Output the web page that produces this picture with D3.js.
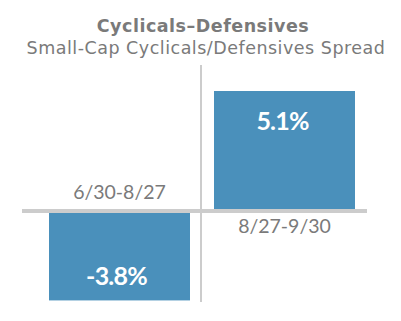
<!DOCTYPE html>
<html>
<head>
<meta charset="utf-8">
<script src="https://cdn.jsdelivr.net/npm/d3@7"></script>
<style>
  html, body { margin: 0; padding: 0; background: #fff; }
  svg { display: block; }
  text { font-family: Lato, "Open Sans", sans-serif; }
  text.ttl { font-family: "DejaVu Sans", sans-serif; }
</style>
</head>
<body>
<script>
const categories = ["6/30-8/27", "8/27-9/30"];
const values = [-3.8, 5.1];
const valueLabels = ["-3.8%", "5.1%"];
const title = "Cyclicals\u2013Defensives";
const subtitle = "Small-Cap Cyclicals/Defensives Spread";

const W = 401, H = 321;
const svg = d3.select("body").append("svg").attr("width", W).attr("height", H);

const x = d3.scaleBand().domain(categories).range([49, 355]).paddingInner(0.1455).paddingOuter(0);
const y = d3.scaleLinear().domain([0, 5.1]).range([211, 91]);

const gray = "#7a7a7a";
const barColor = "#4a90bb";
const lineColor = "#cccccc";

svg.append("text").attr("class", "ttl").attr("x", 203).attr("y", 32).attr("text-anchor", "middle")
  .attr("font-size", 17.5).attr("font-weight", 700).attr("letter-spacing", 0.5).attr("fill", gray).text(title);
svg.append("text").attr("class", "ttl").attr("x", 206).attr("y", 53.5).attr("text-anchor", "middle")
  .attr("font-size", 17.5).attr("letter-spacing", 0.5).attr("fill", gray).text(subtitle);

// vertical divider
svg.append("line").attr("x1", 201).attr("x2", 201).attr("y1", 65).attr("y2", 302)
  .attr("stroke", lineColor).attr("stroke-width", 2);

// bars
svg.selectAll("rect.bar").data(values).join("rect").attr("class", "bar")
  .attr("x", (d, i) => x(categories[i]))
  .attr("width", x.bandwidth())
  .attr("y", d => Math.min(y(d), y(0)))
  .attr("height", d => Math.abs(y(d) - y(0)))
  .attr("fill", barColor);

// zero line
svg.append("line").attr("x1", 22).attr("x2", 367).attr("y1", y(0)).attr("y2", y(0))
  .attr("stroke", lineColor).attr("stroke-width", 4);

// category labels
svg.selectAll("text.cat").data(values).join("text").attr("class", "cat")
  .attr("x", (d, i) => x(categories[i]) + x.bandwidth() / 2)
  .attr("y", d => d < 0 ? y(0) - 12 : y(0) + 22)
  .attr("text-anchor", "middle").attr("font-size", 19.5).attr("fill", gray)
  .text((d, i) => categories[i]);

// value labels
svg.selectAll("text.val").data(values).join("text").attr("class", "val")
  .attr("x", (d, i) => x(categories[i]) + x.bandwidth() / 2 - (d < 0 ? 3 : 2))
  .attr("y", d => d < 0 ? y(d) - 15 : y(d) + 38.5)
  .attr("text-anchor", "middle").attr("font-size", 25).attr("font-weight", 700)
  .attr("letter-spacing", -0.8).attr("fill", "#ffffff")
  .text((d, i) => valueLabels[i]);
</script>
</body>
</html>
